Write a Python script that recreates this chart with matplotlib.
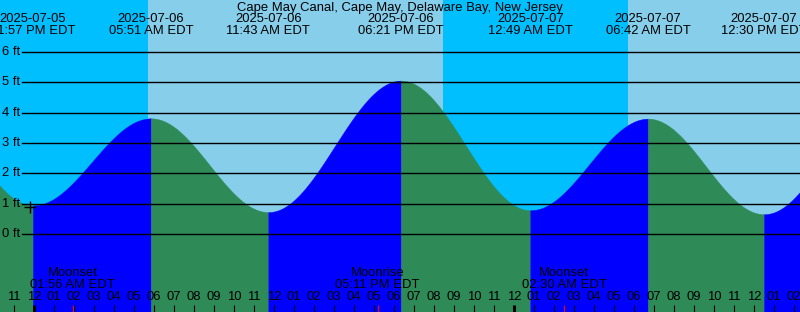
import numpy as np
import pandas as pd
import matplotlib
matplotlib.use("Agg")
import matplotlib.pyplot as plt
import matplotlib.transforms as mtransforms

plt.rcParams['font.family'] = ['Liberation Sans', 'DejaVu Sans']
FS = 9.4

# Data
title = "Cape May Canal, Cape May, Delaware Bay, New Jersey"
tide_times = ["2025-07-05 17:36", "2025-07-05 23:57", "2025-07-06 05:51", "2025-07-06 11:43",
              "2025-07-06 18:21", "2025-07-07 00:49", "2025-07-07 06:42", "2025-07-07 12:30",
              "2025-07-07 18:55"]
tide_heights = [5.0, 0.95, 3.81, 0.73, 5.05, 0.79, 3.80, 0.66, 4.7]
tide_labels_date = ["2025-07-05", "2025-07-06", "2025-07-06", "2025-07-06",
                    "2025-07-07", "2025-07-07", "2025-07-07"]
tide_labels_time = ["11:57 PM EDT", "05:51 AM EDT", "11:43 AM EDT", "06:21 PM EDT",
                    "12:49 AM EDT", "06:42 AM EDT", "12:30 PM EDT"]
sun_times = ["2025-07-06 05:41", "2025-07-06 20:26", "2025-07-07 05:41"]
moon_times = ["2025-07-06 01:56", "2025-07-06 17:11", "2025-07-07 02:30"]
moon_names = ["Moonset", "Moonrise", "Moonset"]
moon_labels = ["01:56 AM EDT", "05:11 PM EDT", "02:30 AM EDT"]
ft_levels = [0, 1, 2, 3, 4, 5, 6]

night_color = '#00BFFF'
day_color = '#87CEEB'
rise_color = '#0000FF'
fall_color = '#2E8B57'

t0 = pd.Timestamp("2025-07-06 00:00")


def hrs(s):
    return (pd.Timestamp(s) - t0).total_seconds() / 3600


# pixel helpers (0 ft at y=234.3 px, 30.43 px per ft, 20 px per hour)
def px_x(px):
    return (px - 34) / 20.0


def px_y(py):
    return (234.3 - py) / 30.43


x_left, x_right = px_x(0), px_x(800)
y_bot, y_top = px_y(312), px_y(0)

fig = plt.figure(figsize=(8, 3.12), dpi=100)
ax = fig.add_axes([0, 0, 1, 1])
ax.set_xlim(x_left, x_right)
ax.set_ylim(y_bot, y_top)
ax.axis('off')

# Day / night bands
sun_h = [hrs(s) for s in sun_times]
edges = [x_left] + sun_h + [x_right]
for i in range(len(edges) - 1):
    ax.axvspan(edges[i], edges[i + 1], color=night_color if i % 2 == 0 else day_color, lw=0)

# Tide curve, filled blue when rising and green when falling
th = [hrs(s) for s in tide_times]
for i in range(len(th) - 1):
    ta, tb = th[i], th[i + 1]
    ha, hb = tide_heights[i], tide_heights[i + 1]
    t = np.linspace(ta, tb, 300)
    h = ha + (hb - ha) * (1 - np.cos(np.pi * (t - ta) / (tb - ta))) / 2
    c = rise_color if hb > ha else fall_color
    ax.fill_between(t, h, y_bot, color=c, lw=0.3, edgecolor=c)

# Height lines and labels
for ft in ft_levels:
    ax.axhline(ft, xmin=22 / 800, xmax=1, color='black', lw=1)
    ax.text(px_x(2), ft, f"{ft} ft", ha='left', va='center', fontsize=FS)

ax.plot(px_x(30), px_y(206.5), marker='+', ms=9, mew=1, color='black')

# Top labels (the outermost ones run off the edges, as in the original)
fig.text(0.5, 1 - 8 / 312, title, ha='center', va='center', fontsize=FS)
trans = mtransforms.blended_transform_factory(ax.transData, fig.transFigure)
for t, d, s in zip(th[1:-1], tide_labels_date, tide_labels_time):
    ax.text(t, 1 - 19 / 312, d, ha='center', va='center', fontsize=FS, transform=trans, clip_on=False)
    ax.text(t, 1 - 31 / 312, s, ha='center', va='center', fontsize=FS, transform=trans, clip_on=False)

# Hour ticks and labels
for hr in range(int(np.ceil(x_left)), int(np.floor(x_right)) + 1):
    hod = hr % 24
    lbl = hod % 12 or 12
    ax.text(hr, px_y(297.5), f"{lbl:02d}", ha='center', va='center', fontsize=FS)
    ax.plot([hr, hr], [px_y(304.5), y_bot], color='black', lw=2.2 if hod == 0 else 0.8,
            solid_capstyle='butt')

# Moon events
for t, n, s in zip(moon_times, moon_names, moon_labels):
    mh = hrs(t)
    ax.plot([mh, mh], [px_y(304.5), y_bot], color='red', lw=0.8, solid_capstyle='butt')
    ax.text(mh, px_y(273.5), n, ha='center', va='center', fontsize=FS)
    ax.text(mh, px_y(285.5), s, ha='center', va='center', fontsize=FS)

fig.savefig("out.png", dpi=100)
